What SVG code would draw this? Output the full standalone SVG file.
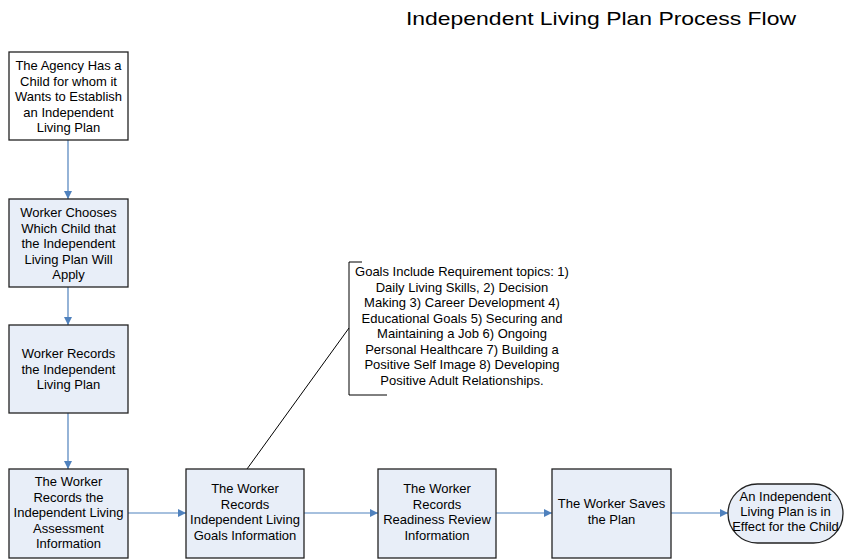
<svg xmlns="http://www.w3.org/2000/svg" width="844" height="560" viewBox="0 0 844 560">
  <style>
    .box { fill: #e8eef8; stroke: #222; stroke-width: 1.3; }
    .start { fill: #ffffff; stroke: #222; stroke-width: 1.3; }
    .lbl { font-family: "Liberation Sans", Arial, sans-serif; font-size: 13px; fill: #000; text-anchor: middle; }
    .title { font-family: "Liberation Sans", Arial, sans-serif; font-size: 19px; fill: #000; }
    .flow { stroke: #4f81bd; stroke-width: 1.2; fill: none; marker-end: url(#arr); }
    .note { stroke: #000; stroke-width: 1; fill: none; }
  </style>
  <defs>
    <marker id="arr" viewBox="0 0 10 10" refX="10" refY="5" markerWidth="8" markerHeight="8" markerUnits="userSpaceOnUse" orient="auto">
      <path d="M0,0 L10,5 L0,10 z" fill="#4f81bd"/>
    </marker>
  </defs>

  <text class="title" x="406" y="25" textLength="390" lengthAdjust="spacingAndGlyphs">Independent Living Plan Process Flow</text>

  <g id="connectors">
    <line class="flow" x1="68" y1="140" x2="68" y2="199"/>
    <line class="flow" x1="68" y1="287" x2="68" y2="325"/>
    <line class="flow" x1="68" y1="413" x2="68" y2="469"/>
    <line class="flow" x1="128" y1="513" x2="186" y2="513"/>
    <line class="flow" x1="304" y1="513" x2="378" y2="513"/>
    <line class="flow" x1="496" y1="513" x2="552" y2="513"/>
    <line class="flow" x1="671" y1="513" x2="728" y2="513"/>
    <line class="note" x1="247" y1="469" x2="349" y2="328"/>
  </g>

  <g id="n1">
    <rect class="start" x="9" y="52" width="119" height="88"/>
    <text class="lbl" x="68.5" y="70">The Agency Has a</text>
    <text class="lbl" x="68.5" y="85.5">Child for whom it</text>
    <text class="lbl" x="68.5" y="101">Wants to Establish</text>
    <text class="lbl" x="68.5" y="116.5">an Independent</text>
    <text class="lbl" x="68.5" y="132">Living Plan</text>
  </g>

  <g id="n2">
    <rect class="box" x="9" y="199" width="119" height="88"/>
    <text class="lbl" x="68.5" y="217">Worker Chooses</text>
    <text class="lbl" x="68.5" y="232.5">Which Child that</text>
    <text class="lbl" x="68.5" y="248">the Independent</text>
    <text class="lbl" x="68.5" y="263.5">Living Plan Will</text>
    <text class="lbl" x="68.5" y="279">Apply</text>
  </g>

  <g id="n3">
    <rect class="box" x="9" y="325" width="119" height="88"/>
    <text class="lbl" x="68.5" y="358">Worker Records</text>
    <text class="lbl" x="68.5" y="373.5">the Independent</text>
    <text class="lbl" x="68.5" y="389">Living Plan</text>
  </g>

  <g id="n4">
    <rect class="box" x="9" y="469" width="119" height="89"/>
    <text class="lbl" x="68.5" y="486">The Worker</text>
    <text class="lbl" x="68.5" y="501.5">Records the</text>
    <text class="lbl" x="68.5" y="517">Independent Living</text>
    <text class="lbl" x="68.5" y="532.5">Assessment</text>
    <text class="lbl" x="68.5" y="548">Information</text>
  </g>

  <g id="n5">
    <rect class="box" x="186" y="469" width="118" height="89"/>
    <text class="lbl" x="245" y="493">The Worker</text>
    <text class="lbl" x="245" y="508.5">Records</text>
    <text class="lbl" x="245" y="524">Independent Living</text>
    <text class="lbl" x="245" y="539.5">Goals Information</text>
  </g>

  <g id="n6">
    <rect class="box" x="378" y="469" width="118" height="89"/>
    <text class="lbl" x="437" y="493">The Worker</text>
    <text class="lbl" x="437" y="508.5">Records</text>
    <text class="lbl" x="437" y="524">Readiness Review</text>
    <text class="lbl" x="437" y="539.5">Information</text>
  </g>

  <g id="n7">
    <rect class="box" x="552" y="469" width="119" height="89"/>
    <text class="lbl" x="611.5" y="508">The Worker Saves</text>
    <text class="lbl" x="611.5" y="524">the Plan</text>
  </g>

  <g id="n8">
    <rect class="box" x="728" y="484" width="115" height="59" rx="29.5" ry="29.5"/>
    <text class="lbl" x="785.5" y="501">An Independent</text>
    <text class="lbl" x="785.5" y="516">Living Plan is in</text>
    <text class="lbl" x="785.5" y="531">Effect for the Child</text>
  </g>

  <g id="note">
    <path class="note" d="M362,262 H349 V395 H387"/>
    <text class="lbl" x="462" y="276">Goals Include Requirement topics: 1)</text>
    <text class="lbl" x="462" y="291.5">Daily Living Skills,  2) Decision</text>
    <text class="lbl" x="462" y="307">Making 3) Career Development 4)</text>
    <text class="lbl" x="462" y="322.5">Educational Goals 5) Securing and</text>
    <text class="lbl" x="462" y="338">Maintaining a Job 6) Ongoing</text>
    <text class="lbl" x="462" y="353.5">Personal Healthcare 7) Building a</text>
    <text class="lbl" x="462" y="369">Positive Self Image 8) Developing</text>
    <text class="lbl" x="462" y="384.5">Positive Adult Relationships.</text>
  </g>
</svg>
